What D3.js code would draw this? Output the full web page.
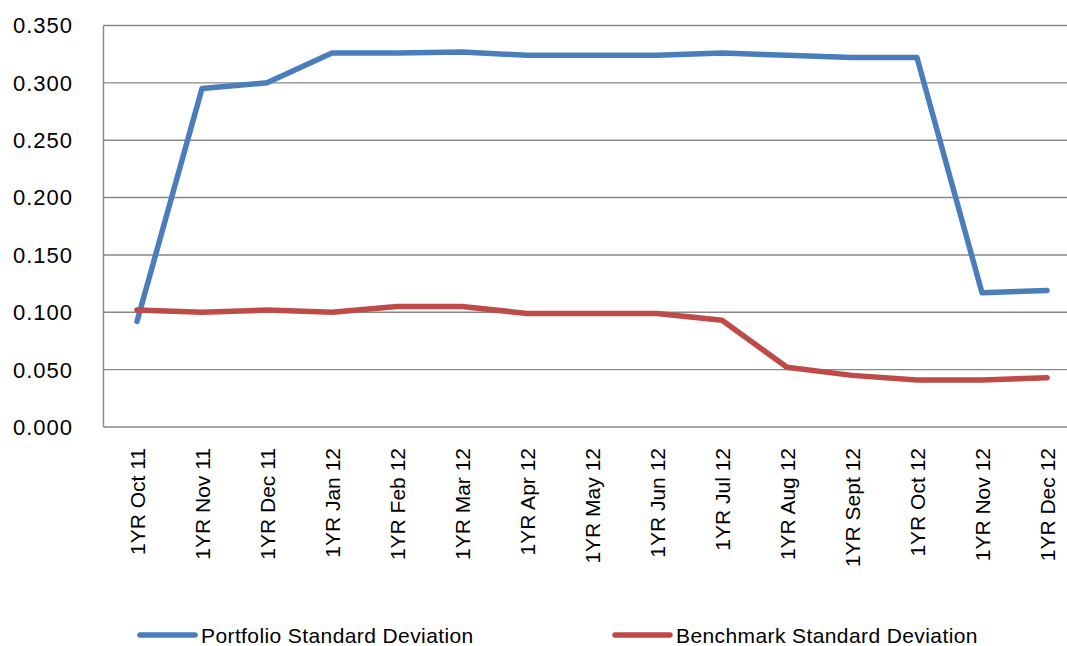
<!DOCTYPE html>
<html>
<head>
<meta charset="utf-8">
<script src="https://cdn.jsdelivr.net/npm/d3@7"></script>
<style>
html,body{margin:0;padding:0;background:#fff;overflow:hidden;}
svg{display:block;font-family:"Liberation Sans",Arial,sans-serif;}
</style>
</head>
<body>
<svg id="chart" width="1067" height="646"></svg>
<script>
const categories = ["1YR Oct 11","1YR Nov 11","1YR Dec 11","1YR Jan 12","1YR Feb 12","1YR Mar 12","1YR Apr 12","1YR May 12","1YR Jun 12","1YR Jul 12","1YR Aug 12","1YR Sept 12","1YR Oct 12","1YR Nov 12","1YR Dec 12"];
const portfolio = [0.092,0.295,0.300,0.326,0.326,0.327,0.324,0.324,0.324,0.326,0.324,0.322,0.322,0.117,0.119];
const benchmark = [0.102,0.100,0.102,0.100,0.105,0.105,0.099,0.099,0.099,0.093,0.052,0.045,0.041,0.041,0.043];
const yTicks = [0,0.05,0.1,0.15,0.2,0.25,0.3,0.35];
const seriesNames = ["Portfolio Standard Deviation","Benchmark Standard Deviation"];
const seriesColors = ["#4A7EBB","#BE4B48"];

(function(){
const svg = d3.select("#chart");
const plotLeft = 103.5, plotTop = 25.5, plotBottom = 427;
const step = 65;
const x = d3.scalePoint().domain(categories).range([137, 137 + step*(categories.length-1)]);
const y = d3.scaleLinear().domain([0,0.35]).range([plotBottom, plotTop]);

svg.append("g").selectAll("line").data(yTicks).join("line")
  .attr("x1", plotLeft).attr("x2", 1067)
  .attr("y1", d => y(d)).attr("y2", d => y(d))
  .attr("stroke", "#878787").attr("stroke-width", 1.4);
svg.append("line").attr("x1", plotLeft).attr("x2", plotLeft).attr("y1", plotTop).attr("y2", plotBottom)
  .attr("stroke", "#878787").attr("stroke-width", 1.4);

svg.append("g").selectAll("text").data(yTicks).join("text")
  .attr("x", 73).attr("y", d => y(d))
  .attr("dy", "0.36em")
  .attr("text-anchor", "end")
  .attr("font-size", 22).attr("letter-spacing", 1)
  .attr("fill", "#000")
  .text(d => d3.format(".3f")(d));

svg.append("g").selectAll("text").data(categories).join("text")
  .attr("transform", d => `translate(${x(d)+8},448) rotate(-90)`)
  .attr("text-anchor", "end")
  .attr("font-size", 21)
  .attr("fill", "#000")
  .text(d => d);

const line = d3.line().x((d,i) => x(categories[i])).y(d => y(d));
[portfolio, benchmark].forEach((s, k) => {
  svg.append("path").datum(s)
    .attr("d", line)
    .attr("fill", "none")
    .attr("stroke", seriesColors[k])
    .attr("stroke-width", 5.5)
    .attr("stroke-linejoin", "round")
    .attr("stroke-linecap", "round");
});

const legendX = [140, 615];
seriesNames.forEach((n, k) => {
  const g = svg.append("g");
  g.append("line").attr("x1", legendX[k]).attr("x2", legendX[k]+55)
    .attr("y1", 635).attr("y2", 635)
    .attr("stroke", seriesColors[k]).attr("stroke-width", 5.5).attr("stroke-linecap", "round");
  g.append("text").attr("x", legendX[k]+61).attr("y", 643)
    .attr("font-size", 21).attr("letter-spacing", 0.4).attr("fill", "#000")
    .text(n);
});
})();
</script>
</body>
</html>
